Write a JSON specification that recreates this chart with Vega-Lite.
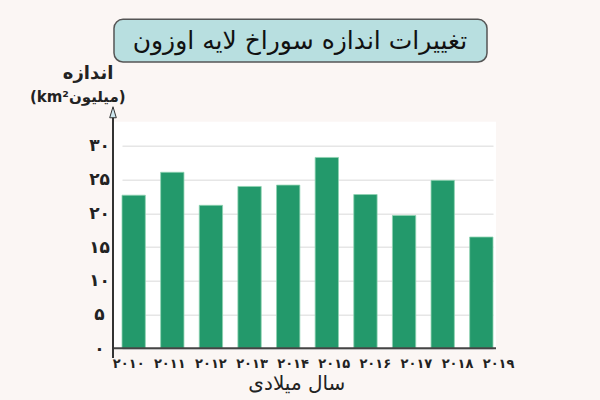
{
  "$schema": "https://vega.github.io/schema/vega-lite/v6.json",
  "width": 383,
  "height": 226.6,
  "autosize": {"type": "none"},
  "padding": {"left": 113, "top": 121.7, "right": 104, "bottom": 51.7},
  "background": "#fbf6f4",
  "config": {"view": {"fill": "white", "stroke": null}, "font": "DejaVu Sans"},
  "data": {
    "values": [
      {"year": "۲۰۱۰", "size": 22.7},
      {"year": "۲۰۱۱", "size": 26.1},
      {"year": "۲۰۱۲", "size": 21.2},
      {"year": "۲۰۱۳", "size": 24.0},
      {"year": "۲۰۱۴", "size": 24.2},
      {"year": "۲۰۱۵", "size": 28.3},
      {"year": "۲۰۱۶", "size": 22.8},
      {"year": "۲۰۱۷", "size": 19.7},
      {"year": "۲۰۱۸", "size": 24.9},
      {"year": "۲۰۱۹", "size": 16.5}
    ]
  },
  "layer": [
    {
      "mark": {"type": "bar", "color": "#23996b", "stroke": "#8fd3b3", "strokeWidth": 0.8},
      "encoding": {
        "x": {"field": "year", "type": "nominal", "sort": null, "axis": null,
              "scale": {"range": [9, 380], "paddingInner": 0.396, "paddingOuter": 0}},
        "y": {"field": "size", "type": "quantitative",
              "scale": {"domain": [0, 33.6], "nice": false},
              "axis": {"values": [0, 5, 10, 15, 20, 25, 30], "title": null, "domain": false, "ticks": false,
                       "labelOverlap": false, "labelFlush": false,
                       "labelPadding": 14, "labelAlign": "center", "labelFontSize": 17, "labelFontWeight": "bold",
                       "labelColor": "#222", "gridColor": "#e6e6e6", "gridWidth": 1.5,
                       "labelExpr": "['۰','۵','۱۰','۱۵','۲۰','۲۵','۳۰'][datum.value / 5]"}}
      }
    },
    {
      "mark": {"type": "text", "fontSize": 13, "fontWeight": "bold", "color": "#222", "baseline": "middle"},
      "encoding": {
        "x": {"field": "year", "type": "nominal", "sort": null, "axis": null,
              "scale": {"range": [-4.85, 406.15], "paddingInner": 0, "paddingOuter": 0}},
        "y": {"datum": -2.33, "type": "quantitative", "axis": null},
        "text": {"field": "year"}
      }
    },
    {
      "data": {"values": [{}]},
      "mark": {"type": "rule", "color": "#444", "strokeWidth": 2},
      "encoding": {
        "x": {"datum": 0, "type": "quantitative", "scale": {"domain": [0, 1], "nice": false}, "axis": null},
        "x2": {"datum": 1},
        "y": {"datum": 0, "type": "quantitative", "axis": null}
      }
    },
    {
      "data": {"values": [{}]},
      "mark": {"type": "rule", "color": "#333", "strokeWidth": 2},
      "encoding": {
        "x": {"datum": 0, "type": "quantitative", "scale": {"domain": [0, 1], "nice": false}, "axis": null},
        "y": {"datum": -1.44, "type": "quantitative", "axis": null},
        "y2": {"datum": 34.4}
      }
    },
    {
      "data": {"values": [{}]},
      "mark": {"type": "point", "shape": "M-0.6,1L0,-1L0.6,1Z", "size": 121, "filled": true, "fill": "#cde6ee", "stroke": "#333", "strokeWidth": 1, "opacity": 1},
      "encoding": {
        "x": {"datum": 0, "type": "quantitative", "scale": {"domain": [0, 1], "nice": false}, "axis": null},
        "y": {"datum": 35.0, "type": "quantitative", "axis": null}
      }
    },
    {
      "data": {"values": [{}]},
      "mark": {"type": "rect", "fill": "#b8dfe0", "stroke": "#555", "strokeWidth": 1.5, "cornerRadius": 9},
      "encoding": {
        "x": {"datum": 0.0026, "type": "quantitative", "scale": {"domain": [0, 1], "nice": false}, "axis": null},
        "x2": {"datum": 0.9765},
        "y": {"datum": 48.78, "type": "quantitative", "axis": null},
        "y2": {"datum": 42.45}
      }
    },
    {
      "data": {"values": [{}]},
      "mark": {"type": "text", "text": "تغییرات اندازه سوراخ لایه اوزون", "fontSize": 25, "color": "#111", "baseline": "middle", "align": "center"},
      "encoding": {
        "x": {"datum": 0.488, "type": "quantitative", "scale": {"domain": [0, 1], "nice": false}, "axis": null},
        "y": {"datum": 45.57, "type": "quantitative", "axis": null}
      }
    },
    {
      "data": {"values": [{}]},
      "mark": {"type": "text", "text": "اندازه", "fontSize": 18, "fontWeight": "bold", "color": "#222", "baseline": "middle", "align": "center"},
      "encoding": {
        "x": {"datum": -0.065, "type": "quantitative", "scale": {"domain": [0, 1], "nice": false}, "axis": null},
        "y": {"datum": 40.66, "type": "quantitative", "axis": null}
      }
    },
    {
      "data": {"values": [{}]},
      "mark": {"type": "text", "text": "(km²میلیون)", "fontSize": 15, "fontWeight": "bold", "color": "#222", "baseline": "middle", "align": "center"},
      "encoding": {
        "x": {"datum": -0.092, "type": "quantitative", "scale": {"domain": [0, 1], "nice": false}, "axis": null},
        "y": {"datum": 37.26, "type": "quantitative", "axis": null}
      }
    },
    {
      "data": {"values": [{}]},
      "mark": {"type": "text", "text": "سال میلادی", "fontSize": 20, "color": "#222", "baseline": "middle", "align": "center"},
      "encoding": {
        "x": {"datum": 0.48, "type": "quantitative", "scale": {"domain": [0, 1], "nice": false}, "axis": null},
        "y": {"datum": -5.28, "type": "quantitative", "axis": null}
      }
    }
  ],
  "resolve": {"scale": {"x": "independent"}, "axis": {"y": "independent"}}
}
